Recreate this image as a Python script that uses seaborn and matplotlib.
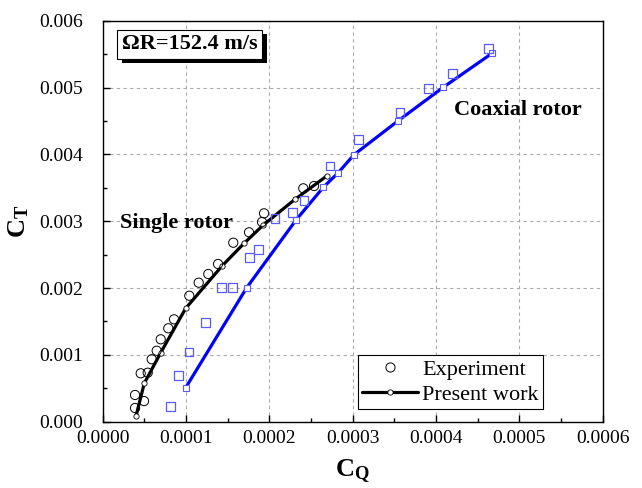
import numpy as np
import pandas as pd
import matplotlib
matplotlib.use("Agg")
import matplotlib.pyplot as plt
import matplotlib.patheffects as pe
from matplotlib.ticker import MultipleLocator, FormatStrFormatter
import seaborn as sns

# ---- data ----
single_exp_cq = [3.88e-5, 3.88e-5, 4.96e-5, 4.56e-5, 5.40e-5, 5.88e-5, 6.48e-5, 6.96e-5,
                 7.87e-5, 8.56e-5, 1.039e-4, 1.152e-4, 1.267e-4, 1.384e-4, 1.567e-4,
                 1.756e-4, 1.936e-4, 1.912e-4, 2.407e-4, 2.536e-4]
single_exp_ct = [0.000205, 0.000400, 0.000309, 0.000724, 0.000733, 0.000934, 0.001062, 0.001233,
                 0.001398, 0.001532, 0.001885, 0.002080, 0.002210, 0.002360, 0.002678,
                 0.002834, 0.003118, 0.002988, 0.003492, 0.003527]

single_cal_cq = [4.0e-5, 4.99e-5, 6.96e-5, 9.96e-5, 1.435e-4, 1.696e-4, 1.927e-4, 2.308e-4, 2.688e-4]
single_cal_ct = [0.000085, 0.000575, 0.001032, 0.001697, 0.002334, 0.002669, 0.002943, 0.003328, 0.003676]

coax_exp_cq = [8.16e-5, 9.12e-5, 1.036e-4, 1.236e-4, 1.428e-4, 1.560e-4, 1.764e-4, 1.872e-4,
               2.068e-4, 2.280e-4, 2.416e-4, 2.728e-4, 3.072e-4, 3.568e-4, 3.907e-4,
               4.200e-4, 4.632e-4]
coax_exp_ct = [0.000224, 0.000688, 0.001043, 0.001487, 0.002005, 0.002011, 0.002460, 0.002580,
               0.003043, 0.003133, 0.003307, 0.003826, 0.004226, 0.004624, 0.004989,
               0.005213, 0.005587]

coax_cal_cq = [9.96e-5, 1.728e-4, 2.320e-4, 2.647e-4, 2.820e-4, 3.016e-4, 3.547e-4, 4.087e-4, 4.672e-4]
coax_cal_ct = [0.000509, 0.002005, 0.003018, 0.003507, 0.003717, 0.003995, 0.004504, 0.005004, 0.005512]

x_ticks = [0.0, 0.0001, 0.0002, 0.0003, 0.0004, 0.0005, 0.0006]
y_ticks = [0.0, 0.001, 0.002, 0.003, 0.004, 0.005, 0.006]

sns.set_style("ticks")
plt.rcParams["font.family"] = ["Liberation Serif", "DejaVu Serif"]
plt.rcParams["mathtext.fontset"] = "custom"
plt.rcParams["mathtext.rm"] = "Liberation Serif"
plt.rcParams["mathtext.bf"] = "Liberation Serif:bold"
plt.rcParams["text.color"] = "black"
plt.rcParams["axes.labelcolor"] = "black"
plt.rcParams["xtick.color"] = "black"
plt.rcParams["ytick.color"] = "black"

fig = plt.figure(figsize=(6.42, 4.88), dpi=100)
ax = fig.add_axes([0.15997, 0.13586, 0.7788, 0.8217])

blue = "#0000ff"
light_blue = "#5a5aff"

# coaxial rotor
sns.lineplot(x=coax_cal_cq, y=coax_cal_ct, sort=False, estimator=None, ax=ax,
             color=blue, lw=2.3, marker="s", markersize=3.8, markerfacecolor="white",
             markeredgecolor=light_blue, markeredgewidth=0.8, zorder=3)
sns.scatterplot(x=coax_exp_cq, y=coax_exp_ct, ax=ax, marker="s", s=40,
                facecolor="none", edgecolor=light_blue, linewidth=0.9, zorder=4)

# single rotor
sns.lineplot(x=single_cal_cq, y=single_cal_ct, sort=False, estimator=None, ax=ax,
             color="black", lw=2.3, marker="o", markersize=3.8, markerfacecolor="white",
             markeredgecolor="black", markeredgewidth=0.6, zorder=3)
sns.scatterplot(x=single_exp_cq, y=single_exp_ct, ax=ax, marker="o", s=44,
                facecolor="none", edgecolor="black", linewidth=0.7, zorder=4)

ax.set_xlim(0, 0.0006)
ax.set_ylim(0, 0.006)
ax.set_xticks(x_ticks)
ax.set_yticks(y_ticks)
ax.xaxis.set_minor_locator(MultipleLocator(0.00005))
ax.yaxis.set_minor_locator(MultipleLocator(0.0005))
ax.xaxis.set_major_formatter(FormatStrFormatter("%.4f"))
ax.yaxis.set_major_formatter(FormatStrFormatter("%.3f"))
ax.tick_params(which="both", direction="in", top=False, right=False, width=1.0, colors="black")
ax.tick_params(which="major", length=5, labelsize=14)
ax.tick_params(which="minor", length=3)
ax.tick_params(axis="x", which="major", pad=6)
ax.tick_params(axis="y", which="major", pad=14)
for sp in ax.spines.values():
    sp.set_visible(True)
    sp.set_linewidth(1.0)
    sp.set_color("black")

ax.grid(True, which="major", color="#aaaaaa", linestyle=(0, (3, 3)), linewidth=0.8)
ax.set_axisbelow(True)

ax.set_xlabel(r"$\mathbf{C_Q}$", fontsize=19, labelpad=8)
ax.set_ylabel(r"$\mathbf{C_T}$", fontsize=19, labelpad=6)

# rotor-speed box with drop shadow
speed = ax.text(0.1736, 0.9414, "ΩR=152.4 m/s", transform=ax.transAxes, fontsize=16,
                fontweight="bold", ha="center", va="center",
                bbox=dict(boxstyle="square,pad=0.2", facecolor="white", edgecolor="black",
                          linewidth=0.8), zorder=6)
speed.get_bbox_patch().set_path_effects([
    pe.SimplePatchShadow(offset=(3.6, -2.9), shadow_rgbFace="black", alpha=1.0),
    pe.Normal(),
])

ax.text(0.0346, 0.496, "Single rotor", transform=ax.transAxes, fontsize=16,
        fontweight="bold", ha="left", va="center")
ax.text(0.7026, 0.777, "Coaxial rotor", transform=ax.transAxes, fontsize=16,
        fontweight="bold", ha="left", va="center")

handles = [
    plt.Line2D([], [], ls="none", marker="o", markersize=6.6, markerfacecolor="none",
               markeredgecolor="black", markeredgewidth=0.7),
    plt.Line2D([], [], color="black", lw=2.3, marker="o", markersize=3.8,
               markerfacecolor="white", markeredgecolor="black", markeredgewidth=0.6),
]
leg = ax.legend(handles, ["Experiment", "Present work"], loc="lower right",
                bbox_to_anchor=(0.881, 0.031), fontsize=16, frameon=True, fancybox=False,
                edgecolor="black", framealpha=1, handlelength=2.5, handletextpad=0.2,
                labelspacing=0.2, borderpad=0.2, borderaxespad=0)
leg.get_frame().set_linewidth(0.8)

fig.savefig("out.png", dpi=100)
